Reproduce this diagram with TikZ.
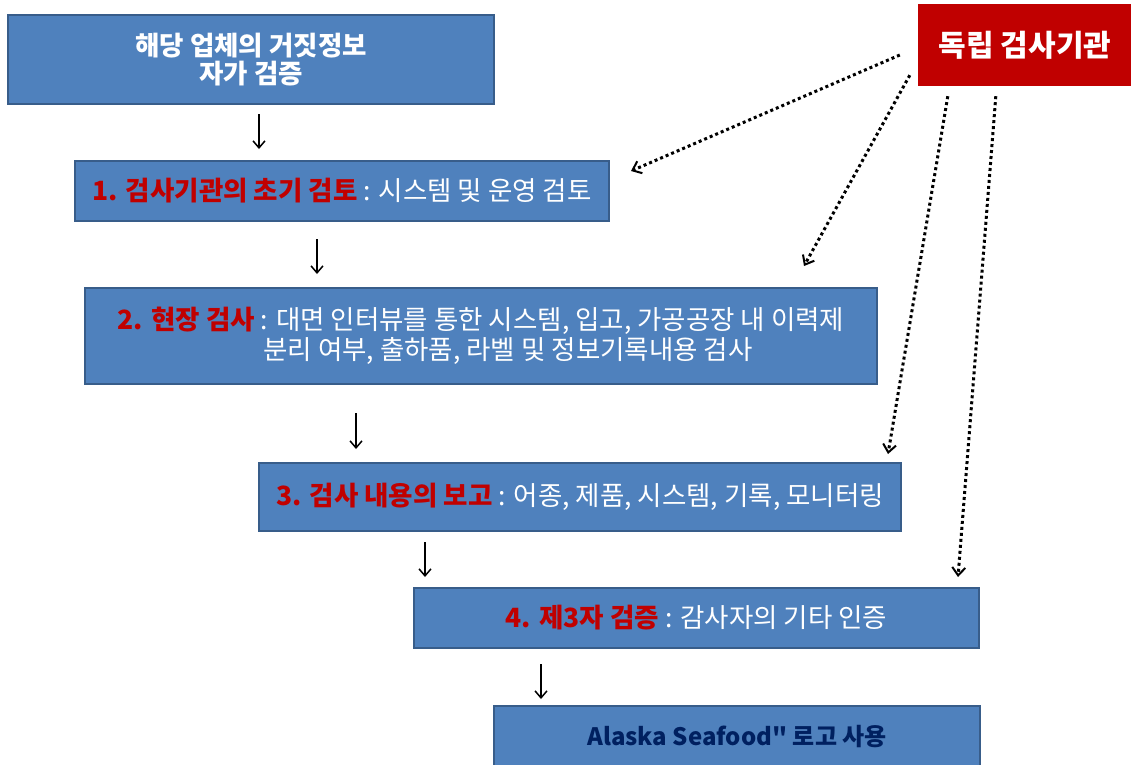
\documentclass[tikz,border=0pt]{standalone}
\usepackage{fontspec}
\setmainfont{Noto Sans CJK KR}[Ligatures=TeXOff]
\usepackage{xcolor}
\usepackage{tikz}
\usetikzlibrary{arrows.meta}

\definecolor{boxblue}{HTML}{4F81BD}
\definecolor{boxline}{HTML}{385D8A}
\definecolor{agencyred}{HTML}{C00000}
\definecolor{steptitle}{HTML}{C00000}
\definecolor{navytext}{HTML}{002060}

\begin{document}
\begin{tikzpicture}[
    x=1pt, y=-1pt,
    stepbox/.style={rectangle, draw=boxline, line width=2pt, fill=boxblue, text=white, align=center, inner sep=0pt, font=\fontsize{26.5}{30}\selectfont},
    agency/.style={rectangle, fill=agencyred, text=white, align=center, inner sep=0pt, font=\fontsize{30}{34}\selectfont\bfseries},
    arrow/.style={-{Straight Barb[length=7pt,width=12pt]}, line width=1.5pt, draw=black},
    dotarrow/.style={-{Straight Barb[length=8pt,width=13pt,line width=2pt]}, line width=3pt, dash pattern=on 3pt off 3pt, draw=black}
]
\clip (0,0) rectangle (1131,764);

% Nodes
\node[stepbox, minimum width=486pt, minimum height=89pt, font=\fontsize{26.5}{28}\selectfont\bfseries] (b0) at (251,59.5) {해당 업체의 거짓정보\\자가 검증};
\node[stepbox, minimum width=534pt, minimum height=60pt] (b1) at (342,191) {{\color{steptitle}\bfseries 1. 검사기관의 초기 검토} : 시스템 및 운영 검토};
\node[stepbox, minimum width=792pt, minimum height=96pt] (b2) at (481,336) {{\color{steptitle}\bfseries 2. 현장 검사} : 대면 인터뷰를 통한 시스템, 입고, 가공공장 내 이력제\\\hspace*{54pt}분리 여부, 출하품, 라벨 및 정보기록내용 검사};
\node[stepbox, minimum width=642pt, minimum height=68pt] (b3) at (580,497) {{\color{steptitle}\bfseries 3. 검사 내용의 보고} : 어종, 제품, 시스템, 기록, 모니터링};
\node[stepbox, minimum width=565pt, minimum height=60pt] (b4) at (696.5,618) {{\color{steptitle}\bfseries 4. 제3자 검증} : 감사자의 기타 인증};
\node[stepbox, minimum width=486pt, minimum height=62pt, text=navytext, font=\fontsize{24}{30}\selectfont\bfseries] (b5) at (737,737) {Alaska Seafood" 로고 사용};
\node[agency, minimum width=214pt, minimum height=82pt] (agency) at (1025,45) {독립 검사기관};

% Edges
\draw[arrow] ([xshift=8pt,yshift=-9pt]b0.south) -- ([xshift=-83pt,yshift=11pt]b1.north);
\draw[arrow] ([xshift=-25pt,yshift=-17pt]b1.south) -- ([xshift=-164pt,yshift=13pt]b2.north);
\draw[arrow] ([xshift=-125pt,yshift=-28pt]b2.south) -- ([xshift=-224pt,yshift=13pt]b3.north);
\draw[arrow] ([xshift=-155pt,yshift=-10pt]b3.south) -- ([xshift=-271.5pt,yshift=10pt]b4.north);
\draw[arrow] ([xshift=-155.5pt,yshift=-15pt]b4.south) -- ([xshift=-196pt,yshift=6pt]b5.north);
\draw[dotarrow] ([xshift=-18pt,yshift=-10pt]agency.west) -- ([xshift=21pt,yshift=-11pt]b1.north east);
\draw[dotarrow] ([xshift=-8pt,yshift=11pt]agency.south west) -- ([xshift=-74pt,yshift=21pt]b2.north east);
\draw[dotarrow] ([xshift=30pt,yshift=-10pt]agency.south west) -- ([xshift=-14pt,yshift=8pt]b3.north east);
\draw[dotarrow] ([xshift=78pt,yshift=-10pt]agency.south west) -- ([xshift=-22pt,yshift=10pt]b4.north east);

\end{tikzpicture}
\end{document}
